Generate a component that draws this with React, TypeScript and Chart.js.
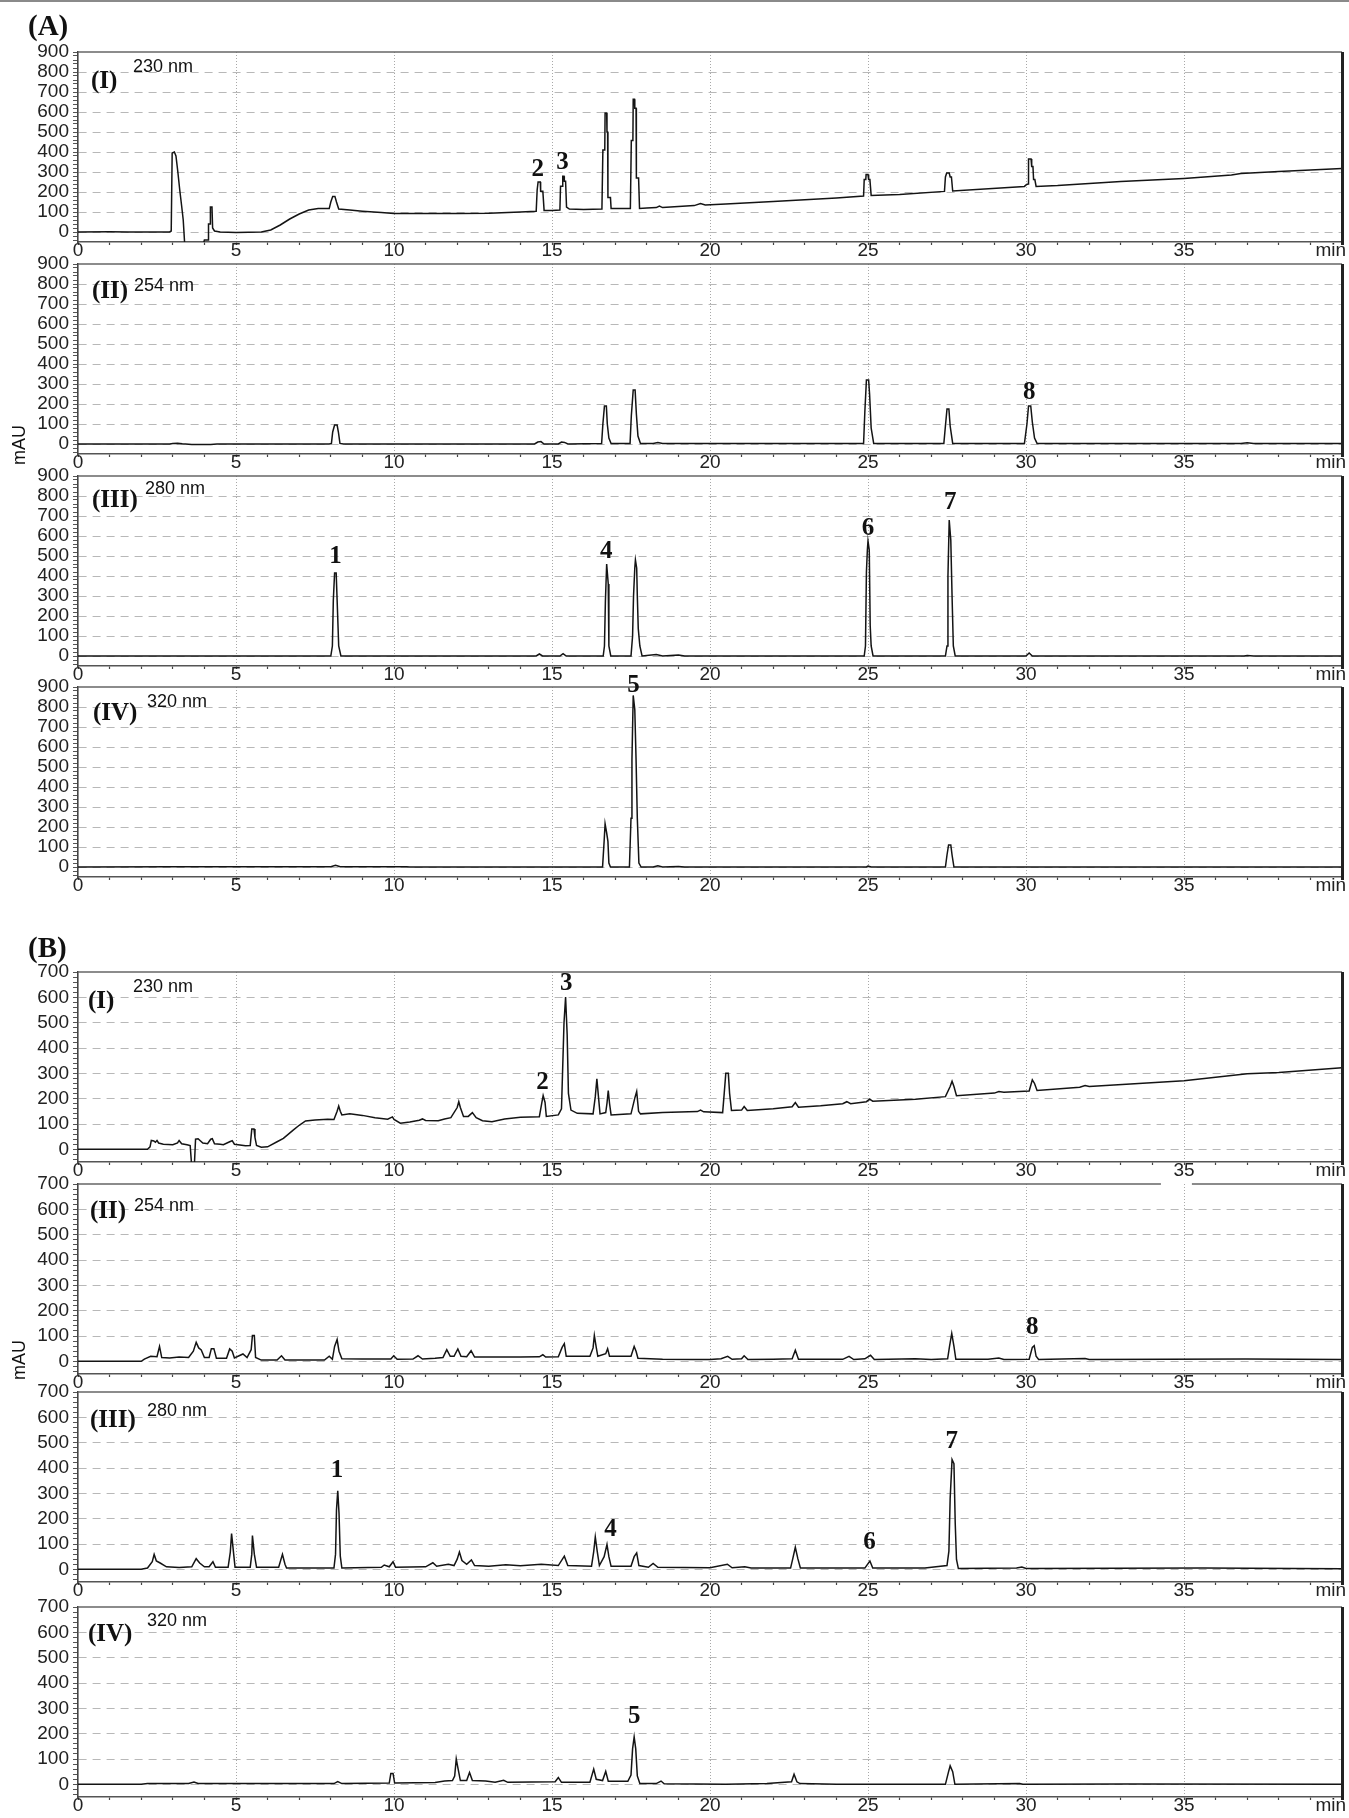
import React, { useEffect, useRef } from "react";
import { Chart, registerables } from "chart.js";
Chart.register(...registerables);

type Pt = [number, number];
type Lbl = [string, number, number];

// ---- axis tick labels ----
const xTickLabels = ["0", "5", "10", "15", "20", "25", "30", "35", "min"];
const yTicksA = [0, 100, 200, 300, 400, 500, 600, 700, 800, 900];
const yTicksB = [0, 100, 200, 300, 400, 500, 600, 700];

// ---- (A) standards : [time (min), absorbance (mAU)] ----
const a230: Pt[] = [
  [0, 0], [1.0, 1], [1.6, 0], [2.9, 0], [2.95, 5], [2.98, 395], [3.05, 400], [3.1, 380], [3.16, 300], [3.22, 210],
  [3.28, 130], [3.33, 60], [3.38, -70], [3.95, -70], [4.0, -40], [4.12, -40], [4.13, 40], [4.18, 40], [4.19, 125],
  [4.24, 125], [4.26, 20], [4.32, 5], [4.5, 0], [5.0, -2], [5.8, 0], [6.1, 10], [6.4, 35], [6.7, 65], [7.0, 90],
  [7.3, 110], [7.6, 117], [7.95, 117], [8.0, 150], [8.06, 178], [8.13, 178], [8.18, 150], [8.25, 115], [8.6, 110],
  [9.0, 104], [9.6, 97], [10.0, 93], [11.0, 92], [12.0, 92], [13.0, 94], [14.0, 100], [14.5, 104], [14.53, 210],
  [14.56, 250], [14.63, 250], [14.64, 204], [14.71, 204], [14.75, 108], [15.0, 108], [15.25, 110], [15.27, 229],
  [15.33, 229], [15.34, 279], [15.38, 279], [15.39, 254], [15.43, 254], [15.46, 125], [15.55, 115], [16.0, 113],
  [16.58, 115], [16.61, 410], [16.67, 410], [16.68, 595], [16.73, 595], [16.74, 500], [16.76, 500], [16.77, 172],
  [16.85, 172], [16.87, 118], [17.48, 117], [17.51, 458], [17.56, 458], [17.57, 664], [17.61, 664], [17.62, 619],
  [17.66, 619], [17.67, 270], [17.74, 270], [17.77, 118], [18.0, 120], [18.3, 122], [18.4, 130], [18.5, 122],
  [19.0, 128], [19.5, 132], [19.7, 142], [19.85, 135], [20.5, 140], [22.0, 152], [24.0, 170], [24.86, 180],
  [24.88, 262], [24.93, 262], [24.94, 287], [25.0, 287], [25.02, 262], [25.06, 262], [25.1, 183], [26.0, 188],
  [27.42, 203], [27.45, 275], [27.49, 295], [27.57, 295], [27.6, 275], [27.64, 275], [27.68, 205], [29.95, 228],
  [30.02, 238], [30.07, 240], [30.08, 365], [30.16, 365], [30.18, 328], [30.22, 328], [30.24, 262], [30.28, 262],
  [30.32, 228], [31.0, 232], [33.0, 252], [35.0, 268], [36.5, 285], [36.8, 292], [38.0, 302], [40.0, 318],
];
const a254: Pt[] = [
  [0, 0], [2.9, 0], [3.0, 3], [3.15, 4], [3.3, 1], [3.6, -2], [4.2, -2], [4.4, 0], [7.95, 0], [8.02, 3], [8.06, 60],
  [8.12, 95], [8.2, 95], [8.24, 60], [8.29, 3], [8.4, 0], [14.45, 0], [14.55, 10], [14.65, 12], [14.75, 0],
  [15.2, 0], [15.3, 10], [15.4, 8], [15.5, 0], [16.57, 2], [16.61, 100], [16.66, 190], [16.72, 190], [16.75, 100],
  [16.8, 30], [16.87, 2], [17.47, 2], [17.51, 140], [17.57, 270], [17.63, 270], [17.67, 150], [17.72, 40],
  [17.8, 3], [18.2, 3], [18.35, 7], [18.5, 3], [24.86, 2], [24.9, 160], [24.95, 320], [25.02, 320], [25.05, 250],
  [25.1, 80], [25.18, 3], [27.4, 2], [27.45, 90], [27.5, 175], [27.56, 175], [27.6, 90], [27.68, 3], [29.95, 2],
  [30.03, 100], [30.08, 190], [30.15, 190], [30.2, 110], [30.27, 30], [30.35, 3], [36.8, 2], [37.0, 6], [37.2, 3],
  [40.0, 2],
];
const a280: Pt[] = [
  [0, 0], [8.0, 0], [8.05, 50], [8.08, 280], [8.12, 415], [8.17, 415], [8.2, 280], [8.25, 50], [8.32, 0],
  [14.5, 0], [14.6, 10], [14.7, 0], [15.25, 0], [15.35, 12], [15.45, 0], [16.62, 0], [16.66, 50], [16.69, 275],
  [16.73, 460], [16.78, 360], [16.8, 50], [16.86, 0], [17.5, 0], [17.55, 100], [17.58, 300], [17.62, 440],
  [17.64, 480], [17.68, 440], [17.7, 300], [17.73, 137], [17.78, 50], [17.85, 0], [18.3, 7], [18.5, 0], [19.0, 5],
  [19.2, 0], [24.88, 0], [24.92, 50], [24.95, 420], [24.98, 530], [25.0, 575], [25.04, 530], [25.07, 150],
  [25.1, 50], [25.16, 0], [27.45, 0], [27.5, 50], [27.53, 400], [27.57, 680], [27.62, 580], [27.66, 300],
  [27.7, 50], [27.76, 0], [30.0, 0], [30.1, 15], [30.2, 0], [36.9, 0], [37.0, 3], [37.2, 0], [40.0, 0],
];
const a320: Pt[] = [
  [0, 0], [3.0, 1], [8.0, 1], [8.15, 8], [8.3, 1], [10.4, 1], [10.5, 0], [16.6, 0], [16.65, 130], [16.68, 216],
  [16.73, 170], [16.77, 128], [16.8, 20], [16.85, 0], [17.45, 0], [17.5, 244], [17.53, 538], [17.57, 858],
  [17.62, 787], [17.66, 538], [17.7, 244], [17.75, 20], [17.82, 0], [18.2, 0], [18.35, 6], [18.5, 0], [19.0, 2],
  [19.2, 0], [24.95, 0], [25.0, 5], [25.1, 0], [27.45, 0], [27.5, 60], [27.55, 110], [27.62, 110], [27.66, 60],
  [27.72, 0], [40.0, 0],
];

// ---- (B) sample ----
const b230: Pt[] = [
  [0, 0], [2.2, 0], [2.28, 10], [2.32, 35], [2.4, 33], [2.45, 28], [2.5, 35], [2.55, 25], [2.7, 20], [3.0, 18],
  [3.15, 25], [3.2, 35], [3.28, 22], [3.45, 18], [3.55, 15], [3.6, -70], [3.68, -70], [3.72, 40], [3.8, 42],
  [3.95, 25], [4.1, 22], [4.2, 40], [4.25, 42], [4.32, 22], [4.5, 20], [4.6, 18], [4.8, 30], [4.88, 34], [4.95, 20],
  [5.3, 14], [5.45, 15], [5.5, 80], [5.57, 80], [5.6, 47], [5.65, 15], [5.8, 8], [6.0, 10], [6.3, 30], [6.5, 43],
  [6.8, 75], [7.0, 95], [7.2, 112], [7.5, 116], [7.9, 119], [8.1, 118], [8.2, 150], [8.25, 171], [8.3, 150],
  [8.35, 136], [8.6, 140], [9.0, 134], [9.4, 125], [9.8, 119], [9.95, 128], [10.0, 118], [10.2, 103], [10.5, 108],
  [10.8, 115], [10.9, 120], [11.0, 114], [11.4, 113], [11.6, 120], [11.8, 125], [12.0, 165], [12.05, 188],
  [12.1, 165], [12.2, 130], [12.35, 130], [12.48, 145], [12.6, 125], [12.8, 113], [13.1, 109], [13.5, 120],
  [14.0, 127], [14.6, 129], [14.68, 185], [14.72, 212], [14.78, 185], [14.82, 130], [15.2, 136], [15.3, 160],
  [15.38, 500], [15.43, 601], [15.48, 452], [15.52, 221], [15.6, 155], [15.8, 142], [16.3, 140], [16.37, 208],
  [16.42, 278], [16.47, 208], [16.52, 140], [16.7, 145], [16.74, 182], [16.78, 232], [16.82, 182], [16.87, 136],
  [17.5, 140], [17.62, 202], [17.68, 228], [17.74, 150], [17.8, 140], [18.5, 145], [19.6, 149], [19.7, 155],
  [19.8, 148], [20.4, 145], [20.45, 221], [20.5, 300], [20.58, 300], [20.62, 221], [20.68, 153], [21.0, 155],
  [21.08, 169], [21.18, 153], [22.0, 160], [22.6, 168], [22.7, 185], [22.8, 166], [23.5, 172], [24.2, 180],
  [24.33, 188], [24.45, 180], [24.95, 188], [25.05, 198], [25.15, 190], [26.5, 198], [27.45, 208], [27.6, 248],
  [27.66, 269], [27.72, 248], [27.8, 212], [29.0, 222], [29.14, 228], [29.3, 225], [30.1, 230], [30.2, 274],
  [30.27, 260], [30.35, 232], [31.7, 245], [31.87, 252], [32.0, 248], [35.0, 271], [37.0, 298], [38.0, 303],
  [40.0, 322],
];
const b254: Pt[] = [
  [0, 0], [2.0, 0], [2.1, 9], [2.3, 20], [2.5, 18], [2.58, 59], [2.65, 15], [2.9, 13], [3.2, 17], [3.5, 15],
  [3.65, 40], [3.74, 75], [3.82, 53], [3.9, 45], [4.0, 15], [4.15, 15], [4.22, 50], [4.3, 50], [4.38, 12],
  [4.7, 12], [4.8, 49], [4.88, 40], [4.95, 13], [5.22, 29], [5.35, 15], [5.48, 46], [5.52, 102], [5.58, 102],
  [5.62, 15], [5.8, 5], [6.3, 5], [6.44, 22], [6.55, 5], [7.8, 5], [7.95, 20], [8.05, 8], [8.12, 59], [8.2, 86],
  [8.26, 40], [8.35, 10], [9.0, 9], [9.9, 9], [9.99, 22], [10.1, 8], [10.6, 9], [10.76, 22], [10.9, 9], [11.3, 12],
  [11.55, 15], [11.67, 46], [11.78, 20], [11.9, 20], [12.02, 49], [12.12, 20], [12.3, 18], [12.44, 42], [12.55, 17],
  [13.0, 17], [14.0, 17], [14.6, 18], [14.71, 26], [14.8, 17], [15.2, 18], [15.32, 55], [15.39, 70], [15.45, 20],
  [16.2, 20], [16.3, 53], [16.34, 102], [16.4, 55], [16.45, 20], [16.7, 30], [16.76, 50], [16.82, 20], [17.5, 20],
  [17.6, 59], [17.66, 40], [17.72, 12], [18.5, 8], [19.5, 7], [20.0, 7], [20.35, 10], [20.56, 20], [20.7, 8],
  [21.0, 10], [21.08, 22], [21.2, 7], [22.0, 8], [22.6, 10], [22.7, 44], [22.8, 8], [24.2, 8], [24.4, 20],
  [24.55, 7], [24.9, 10], [25.08, 24], [25.2, 7], [26.5, 10], [27.0, 7], [27.52, 10], [27.58, 59], [27.65, 110],
  [27.72, 59], [27.78, 8], [28.8, 8], [29.14, 13], [29.3, 7], [30.1, 8], [30.2, 55], [30.26, 62], [30.32, 20],
  [30.4, 7], [31.87, 11], [32.0, 7], [36.95, 9], [40.0, 7],
];
const b280: Pt[] = [
  [0, 0], [2.0, 0], [2.2, 5], [2.35, 30], [2.41, 59], [2.48, 33], [2.6, 25], [2.8, 10], [3.2, 7], [3.6, 10],
  [3.74, 42], [3.85, 25], [4.0, 10], [4.15, 10], [4.27, 30], [4.35, 8], [4.75, 8], [4.82, 68], [4.86, 141],
  [4.92, 68], [4.97, 8], [5.45, 8], [5.5, 60], [5.52, 133], [5.58, 60], [5.65, 8], [6.35, 8], [6.47, 59],
  [6.55, 20], [6.6, 5], [8.1, 5], [8.15, 60], [8.18, 235], [8.22, 310], [8.26, 222], [8.3, 52], [8.35, 5],
  [9.6, 8], [9.69, 17], [9.85, 10], [9.97, 30], [10.05, 8], [11.0, 10], [11.23, 26], [11.35, 12], [11.72, 20],
  [11.9, 15], [12.0, 40], [12.07, 68], [12.15, 35], [12.3, 20], [12.45, 37], [12.55, 15], [13.0, 12], [13.54, 18],
  [14.0, 14], [14.66, 20], [15.2, 15], [15.39, 52], [15.5, 15], [16.25, 12], [16.32, 70], [16.37, 128],
  [16.43, 72], [16.5, 15], [16.65, 50], [16.74, 98], [16.8, 50], [16.87, 12], [17.5, 12], [17.6, 50], [17.68, 65],
  [17.75, 15], [18.05, 8], [18.2, 23], [18.35, 8], [20.0, 6], [20.55, 20], [20.7, 6], [21.1, 10], [21.3, 5],
  [22.55, 5], [22.62, 42], [22.7, 87], [22.78, 42], [22.86, 5], [24.9, 5], [25.06, 33], [25.15, 5], [26.8, 5],
  [27.5, 15], [27.56, 72], [27.6, 280], [27.66, 433], [27.72, 417], [27.76, 183], [27.8, 39], [27.86, 3],
  [29.7, 5], [29.87, 9], [30.0, 3], [35.6, 5], [40.0, 2],
];
const b320: Pt[] = [
  [0, 0], [2.0, 0], [2.2, 3], [3.5, 3], [3.67, 9], [3.8, 3], [5.5, 3], [8.1, 3], [8.22, 11], [8.35, 3], [9.85, 5],
  [9.9, 43], [9.97, 43], [10.02, 5], [11.3, 7], [11.6, 13], [11.85, 15], [11.92, 33], [11.97, 100], [12.03, 60],
  [12.1, 15], [12.3, 15], [12.39, 47], [12.48, 15], [12.9, 13], [13.2, 8], [13.47, 16], [13.6, 8], [15.1, 10],
  [15.2, 27], [15.3, 8], [16.2, 8], [16.32, 60], [16.4, 20], [16.6, 15], [16.7, 51], [16.78, 12], [17.4, 12],
  [17.5, 37], [17.55, 140], [17.6, 187], [17.65, 140], [17.7, 33], [17.78, 3], [18.3, 3], [18.45, 13], [18.55, 2],
  [20.5, 0], [21.8, 3], [22.58, 10], [22.66, 40], [22.75, 10], [22.85, 3], [24.0, 0], [27.45, 0], [27.55, 50],
  [27.6, 73], [27.68, 50], [27.75, 0], [29.8, 3], [29.9, 0], [33.25, 1], [40.0, 0],
];

// ---- peak numbers : [label, time, mAU] ----
const pkA230: Lbl[] = [["2", 14.55, 312], ["3", 15.33, 346]];
const pkA254: Lbl[] = [["8", 30.1, 255]];
const pkA280: Lbl[] = [["1", 8.15, 495], ["4", 16.72, 520], ["6", 25.0, 636], ["7", 27.6, 765]];
const pkA320: Lbl[] = [["5", 17.58, 908]];
const pkB230: Lbl[] = [["2", 14.7, 265], ["3", 15.45, 656]];
const pkB254: Lbl[] = [["8", 30.2, 132]];
const pkB280: Lbl[] = [["1", 8.2, 391], ["4", 16.85, 156], ["6", 25.05, 104], ["7", 27.65, 506]];
const pkB320: Lbl[] = [["5", 17.6, 267]];

// ---- layout ----
const W = 1349;
const PAD_TOP = 18;
const PLOT_H = 190;
const X_H = 30;
const LEFT = 78;
const RIGHT = 1342;

interface PanelCfg {
  top: number;
  yMax: number;
  yTicks: number[];
  trace: Pt[];
  peaks: Lbl[];
  roman: string;
  nm: string;
  romanPos: [number, number];
  nmPos: [number, number];
  topGap?: [number, number];
}

const panels: PanelCfg[] = [
  { top: 52, yMax: 900, yTicks: yTicksA, trace: a230, peaks: pkA230, roman: "(I)", nm: "230 nm", romanPos: [91, 80], nmPos: [133, 66] },
  { top: 264, yMax: 900, yTicks: yTicksA, trace: a254, peaks: pkA254, roman: "(II)", nm: "254 nm", romanPos: [92, 290], nmPos: [134, 285] },
  { top: 476, yMax: 900, yTicks: yTicksA, trace: a280, peaks: pkA280, roman: "(III)", nm: "280 nm", romanPos: [92, 499], nmPos: [145, 488] },
  { top: 687, yMax: 900, yTicks: yTicksA, trace: a320, peaks: pkA320, roman: "(IV)", nm: "320 nm", romanPos: [93, 712], nmPos: [147, 701] },
  { top: 972, yMax: 700, yTicks: yTicksB, trace: b230, peaks: pkB230, roman: "(I)", nm: "230 nm", romanPos: [88, 1000], nmPos: [133, 986] },
  { top: 1184, yMax: 700, yTicks: yTicksB, trace: b254, peaks: pkB254, roman: "(II)", nm: "254 nm", romanPos: [90, 1210], nmPos: [134, 1205], topGap: [34.27, 35.25] },
  { top: 1392, yMax: 700, yTicks: yTicksB, trace: b280, peaks: pkB280, roman: "(III)", nm: "280 nm", romanPos: [90, 1419], nmPos: [147, 1410] },
  { top: 1607, yMax: 700, yTicks: yTicksB, trace: b320, peaks: pkB320, roman: "(IV)", nm: "320 nm", romanPos: [88, 1633], nmPos: [147, 1620] },
];

const SANS = '"Liberation Sans", Arial, sans-serif';
const SERIF = '"Liberation Serif", "Times New Roman", serif';

function Panel({ cfg }: { cfg: PanelCfg }) {
  const ref = useRef<HTMLCanvasElement>(null);
  useEffect(() => {
    const canvas = ref.current!;
    const yMinor: number[] = [];
    for (let v = -40; v <= cfg.yMax; v += 20) yMinor.push(v);
    const xMinor: number[] = [];
    for (let v = 0; v <= 40; v += 1) xMinor.push(v);

    const overlay = {
      id: "overlay",
      afterDraw(chart: any) {
        const { ctx, chartArea: a } = chart;
        const xs = chart.scales.x;
        const ys = chart.scales.y;
        ctx.save();
        // top border
        ctx.strokeStyle = "#666";
        ctx.lineWidth = 1.3;
        ctx.beginPath();
        if (cfg.topGap) {
          ctx.moveTo(a.left, a.top);
          ctx.lineTo(xs.getPixelForValue(cfg.topGap[0]), a.top);
          ctx.moveTo(xs.getPixelForValue(cfg.topGap[1]), a.top);
          ctx.lineTo(a.right, a.top);
        } else {
          ctx.moveTo(a.left, a.top);
          ctx.lineTo(a.right, a.top);
        }
        ctx.stroke();
        // thick right border
        ctx.strokeStyle = "#222";
        ctx.lineWidth = 3;
        ctx.beginPath();
        ctx.moveTo(a.right + 0.5, a.top);
        ctx.lineTo(a.right + 0.5, a.bottom + 3);
        ctx.stroke();
        // peak numbers
        ctx.fillStyle = "#111";
        ctx.font = `bold 25px ${SERIF}`;
        ctx.textAlign = "center";
        ctx.textBaseline = "middle";
        for (const [t, x, v] of cfg.peaks) {
          ctx.fillText(t, xs.getPixelForValue(x), ys.getPixelForValue(v));
        }
        // unit label at the end of the time axis
        ctx.font = `19px ${SANS}`;
        ctx.fillStyle = "#222";
        ctx.textAlign = "right";
        ctx.fillText(xTickLabels[8], a.right + 4, a.bottom + 8.5);
        ctx.restore();
      },
    };

    const chart = new Chart(canvas, {
      type: "line",
      data: {
        datasets: [
          {
            data: cfg.trace.map(([x, y]) => ({ x, y })),
            borderColor: "#141414",
            borderWidth: 1.5,
            pointRadius: 0,
            tension: 0,
            fill: false,
          },
        ],
      },
      options: {
        animation: false,
        responsive: false,
        maintainAspectRatio: false,
        events: [],
        layout: { padding: { left: 0, right: W - RIGHT, top: PAD_TOP, bottom: 0 } },
        plugins: { legend: { display: false }, tooltip: { enabled: false }, title: { display: false } },
        scales: {
          x: {
            type: "linear",
            min: 0,
            max: 40,
            afterFit: (s: any) => {
              s.height = X_H;
            },
            afterBuildTicks: (s: any) => {
              s.ticks = xMinor.map((v) => ({ value: v }));
            },
            ticks: {
              autoSkip: false,
              maxRotation: 0,
              padding: -4,
              color: "#222",
              font: { family: SANS, size: 19, lineHeight: 1 },
              callback: (v: any) => {
                const n = Number(v);
                return n % 5 === 0 && n < 40 ? xTickLabels[n / 5] : "";
              },
            },
            grid: {
              drawOnChartArea: true,
              color: (c: any) => {
                const v = c.tick ? c.tick.value : 0;
                return v % 5 === 0 && v > 0 && v < 40 ? "#a8a8a8" : "rgba(0,0,0,0)";
              },
              lineWidth: 1,
              tickLength: 3,
              tickColor: "#444",
              tickWidth: 1.2,
            },
            border: { display: true, color: "#555", width: 1.5, dash: [1, 2] },
          },
          y: {
            type: "linear",
            min: -50,
            max: cfg.yMax,
            afterFit: (s: any) => {
              s.width = LEFT;
            },
            afterBuildTicks: (s: any) => {
              s.ticks = yMinor.map((v) => ({ value: v }));
            },
            ticks: {
              autoSkip: false,
              padding: 4,
              color: "#222",
              font: { family: SANS, size: 19, lineHeight: 1 },
              callback: (v: any) => {
                const n = Number(v);
                return cfg.yTicks.includes(n) ? String(n) : "";
              },
            },
            grid: {
              drawOnChartArea: true,
              color: (c: any) => {
                const v = c.tick ? c.tick.value : 1;
                return cfg.yTicks.includes(v) && v < cfg.yMax ? "#b8b8b8" : "rgba(0,0,0,0)";
              },
              lineWidth: 1,
              tickLength: 5,
              tickColor: "#555",
              tickWidth: 1,
            },
            border: { display: true, color: "#444", width: 1.6, dash: [8, 6] },
          },
        },
      },
      plugins: [overlay],
    } as any);
    return () => chart.destroy();
  }, [cfg]);

  return (
    <canvas
      ref={ref}
      width={W}
      height={PAD_TOP + PLOT_H + X_H}
      style={{ position: "absolute", left: 0, top: cfg.top - PAD_TOP, width: W, height: PAD_TOP + PLOT_H + X_H }}
    />
  );
}

const txt = (x: number, y: number, font: string, extra: any = {}): any => ({
  position: "absolute",
  left: x,
  top: y,
  transform: "translateY(-50%)",
  lineHeight: 1,
  whiteSpace: "nowrap",
  color: "#111",
  font,
  ...extra,
});

export default function App() {
  return (
    <div style={{ position: "absolute", left: 0, top: 0, width: W, height: 1818, background: "#fff", overflow: "hidden" }}>
      <div style={{ position: "absolute", left: 0, top: 0, width: W, height: 2, background: "#8a8a8a" }} />
      {panels.map((p, i) => (
        <Panel key={i} cfg={p} />
      ))}
      <div style={txt(28, 25, `bold 29px ${SERIF}`)}>(A)</div>
      <div style={txt(28, 947, `bold 29px ${SERIF}`)}>(B)</div>
      <div style={txt(19, 445, `18px ${SANS}`, { transform: "translate(-50%, -50%) rotate(-90deg)" })}>mAU</div>
      <div style={txt(19, 1360, `18px ${SANS}`, { transform: "translate(-50%, -50%) rotate(-90deg)" })}>mAU</div>
      {panels.map((p, i) => (
        <React.Fragment key={"t" + i}>
          <div style={txt(p.romanPos[0], p.romanPos[1], `bold 25px ${SERIF}`)}>{p.roman}</div>
          <div style={txt(p.nmPos[0], p.nmPos[1], `18px ${SANS}`)}>{p.nm}</div>
        </React.Fragment>
      ))}
    </div>
  );
}
